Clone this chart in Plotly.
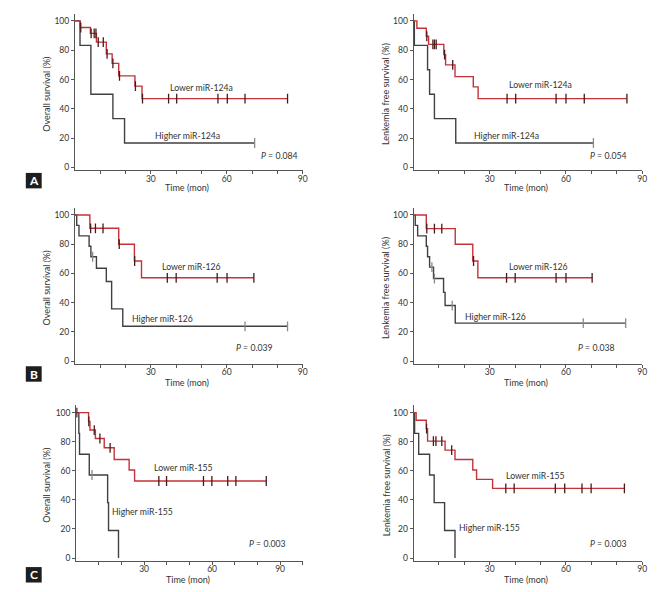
import plotly.graph_objects as go

W, H = 671, 592

# ---------------- DATA ----------------
# Panel A : miR-124a
a_os_low_t = [0, 2.0, 6.1, 8.5, 12.4, 14.7, 17.3, 23.7, 26.5, 84.0]
a_os_low_s = [100, 95.5, 91.5, 85.5, 77.5, 71.0, 62.5, 55.5, 47.0, 47.0]
a_os_low_c = [2.3, 6.4, 7.6, 8.3, 9.2, 11.2, 12.7, 15.0, 17.6, 23.9, 26.7, 37.0, 40.2, 56.5, 60.2, 67.2, 84.0]
a_os_high_t = [0, 2.0, 6.3, 15.0, 19.6, 71.0]
a_os_high_s = [100, 83.3, 50.0, 33.3, 16.7, 16.7]
a_os_high_c = [71.0]

a_lfs_low_t = [0, 1.3, 5.0, 5.9, 11.9, 12.6, 16.3, 23.5, 25.4, 84.0]
a_lfs_low_s = [100, 95.0, 89.5, 84.0, 77.0, 70.0, 62.0, 55.0, 47.0, 47.0]
a_lfs_low_c = [5.2, 7.6, 8.2, 8.9, 12.2, 15.4, 36.8, 40.2, 56.1, 60.0, 67.2, 84.0]
a_lfs_high_t = [0, 0.3, 5.5, 6.3, 8.2, 16.6, 70.8]
a_lfs_high_s = [100, 83.3, 66.7, 50.0, 33.3, 16.7, 16.7]
a_lfs_high_c = [70.8]

# Panel B : miR-126
b_os_low_t = [0, 5.9, 17.3, 23.5, 26.3, 70.7]
b_os_low_s = [100, 90.9, 80.0, 68.5, 57.0, 57.0]
b_os_low_c = [6.2, 8.1, 11.1, 17.5, 23.6, 36.5, 40.0, 56.2, 60.1, 70.7]
b_os_high_t = [0, 0.7, 1.6, 5.6, 6.3, 8.5, 12.4, 14.5, 18.9, 84.0]
b_os_high_s = [100, 92.9, 85.7, 78.6, 71.4, 63.5, 54.5, 35.7, 23.8, 23.8]
b_os_high_c = [7.0, 67.2, 84.0]

b_lfs_low_t = [0, 5.0, 16.4, 23.3, 25.3, 70.3]
b_lfs_low_s = [100, 90.7, 80.0, 68.5, 57.0, 57.0]
b_lfs_low_c = [5.2, 8.2, 11.1, 23.6, 36.6, 40.0, 56.1, 60.0, 70.3]
b_lfs_high_t = [0, 0.65, 1.6, 5.0, 5.5, 6.3, 7.85, 11.8, 12.4, 16.4, 83.5]
b_lfs_high_s = [100, 92.9, 85.7, 78.6, 71.4, 64.3, 56.5, 47.0, 38.0, 26.0, 26.0]
b_lfs_high_c = [7.2, 8.2, 15.2, 66.8, 83.5]

# Panel C : miR-155
c_os_low_t = [0, 5.5, 6.1, 8.5, 12.4, 16.8, 23.4, 25.8, 83.9]
c_os_low_s = [100, 94.0, 88.0, 82.2, 75.8, 67.8, 60.5, 53.0, 53.0]
c_os_low_c = [0.3, 5.6, 8.0, 10.5, 15.0, 36.5, 39.9, 56.2, 59.9, 66.9, 70.5, 83.9]
c_os_high_t = [0, 1.2, 1.5, 5.8, 13.9, 14.3, 18.7]
c_os_high_s = [100, 85.7, 71.4, 57.1, 38.1, 19.0, 0.0]
c_os_high_c = [7.0]

c_lfs_low_t = [0, 1.0, 5.0, 5.5, 12.4, 16.3, 23.3, 24.8, 31.1, 83.0]
c_lfs_low_s = [100, 94.7, 89.0, 80.4, 74.2, 67.8, 60.5, 54.1, 47.9, 47.9]
c_lfs_low_c = [5.1, 7.8, 8.8, 11.1, 15.0, 36.3, 39.6, 55.8, 59.5, 66.3, 69.9, 83.0]
c_lfs_high_t = [0, 0.4, 2.0, 6.3, 8.1, 12.2, 16.3]
c_lfs_high_s = [100, 85.7, 71.4, 57.1, 38.1, 19.0, 0.0]
c_lfs_high_c = []

y_ticks = [0, 20, 40, 60, 80, 100]
x_label_ticks = [30, 60, 90]

RED = "#c4323a"
RED_CENSOR = "#4a1a1a"
DARK = "#404040"
DARK_CENSOR = "#8a8a8a"
TXT = "#333333"
FONT = "Lato"


def km_at(ts, ss, tc):
    v = ss[0]
    for t, s in zip(ts, ss):
        if t <= tc:
            v = s
    return v


panels = [
    dict(id=1, xr=(0, 90), xd=(75.5, 305), yd=(13.6, 171), tgap=17,
         ytitle="Overall survival (%)",
         low=(a_os_low_t, a_os_low_s, a_os_low_c), high=(a_os_high_t, a_os_high_s, a_os_high_c),
         low_lbl=("Lower miR-124a", 50.2, 54.5), high_lbl=("Higher miR-124a", 44.3, 22.0),
         p=("0.084", 89.0, 8.0)),
    dict(id=2, xr=(0, 90), xd=(416.7, 647), yd=(13.6, 171), tgap=17,
         ytitle="Lenkemia free survival (%)",
         low=(a_lfs_low_t, a_lfs_low_s, a_lfs_low_c), high=(a_lfs_high_t, a_lfs_high_s, a_lfs_high_c),
         low_lbl=("Lower miR-124a", 49.8, 56.6), high_lbl=("Higher miR-124a", 36.5, 22.0),
         p=("0.054", 84.8, 8.4)),
    dict(id=3, xr=(0, 90), xd=(75.5, 305), yd=(208.4, 365.2), tgap=19,
         ytitle="Overall survival (%)",
         low=(b_os_low_t, b_os_low_s, b_os_low_c), high=(b_os_high_t, b_os_high_s, b_os_high_c),
         low_lbl=("Lower miR-126", 46.0, 65.0), high_lbl=("Higher miR-126", 34.6, 29.0),
         p=("0.039", 79.2, 9.5)),
    dict(id=4, xr=(0, 90), xd=(416.7, 647), yd=(208.4, 365.2), tgap=19,
         ytitle="Lenkemia free survival (%)",
         low=(b_lfs_low_t, b_lfs_low_s, b_lfs_low_c), high=(b_lfs_high_t, b_lfs_high_s, b_lfs_high_c),
         low_lbl=("Lower miR-126", 49.1, 65.0), high_lbl=("Higher miR-126", 32.1, 30.5),
         p=("0.038", 80.1, 9.5)),
    dict(id=5, xr=(0, 100), xd=(76.7, 305), yd=(406.7, 562.9), tgap=19,
         ytitle="Overall survival (%)",
         low=(c_os_low_t, c_os_low_s, c_os_low_c), high=(c_os_high_t, c_os_high_s, c_os_high_c),
         low_lbl=("Lower miR-155", 47.4, 62.3), high_lbl=("Higher miR-155", 29.4, 31.7),
         p=("0.003", 93.4, 9.8)),
    dict(id=6, xr=(0, 90), xd=(416.7, 647), yd=(406.7, 562.9), tgap=19,
         ytitle="Lenkemia free survival (%)",
         low=(c_lfs_low_t, c_lfs_low_s, c_lfs_low_c), high=(c_lfs_high_t, c_lfs_high_s, c_lfs_high_c),
         low_lbl=("Lower miR-155", 48.1, 57.0), high_lbl=("Higher miR-155", 29.7, 21.0),
         p=("0.003", 85.0, 9.8)),
]

fig = go.Figure()
annotations = []
shapes = []
layout_axes = {}

for p in panels:
    i = p["id"]
    xa = "x" if i == 1 else f"x{i}"
    ya = "y" if i == 1 else f"y{i}"
    for (ts, ss, cs), col, ccol in [(p["high"], DARK, DARK_CENSOR), (p["low"], RED, RED_CENSOR)]:
        fig.add_trace(go.Scatter(x=ts, y=ss, mode="lines", line=dict(color=col, width=1.4, shape="hv"),
                                 xaxis=xa, yaxis=ya, showlegend=False, hoverinfo="skip"))
        if cs:
            fig.add_trace(go.Scatter(x=cs, y=[km_at(ts, ss, c) for c in cs], mode="markers",
                                     marker=dict(symbol="line-ns-open", size=7, color=ccol,
                                                 line=dict(color=ccol, width=1.3)),
                                     xaxis=xa, yaxis=ya, showlegend=False, hoverinfo="skip"))
    xmax = p["xr"][1]
    tv = list(range(10, xmax + 1, 10))
    tt = [str(v) if v in x_label_ticks else "" for v in tv]
    layout_axes["xaxis" if i == 1 else f"xaxis{i}"] = dict(
        domain=[p["xd"][0] / W, p["xd"][1] / W], range=list(p["xr"]), anchor=ya,
        showline=True, linecolor="#555", linewidth=1, ticks="outside", ticklen=3, tickwidth=1,
        tickcolor="#555", tickvals=tv, ticktext=tt, showgrid=False, zeroline=False,
        tickfont=dict(size=8.5, color=TXT, family=FONT), ticklabelstandoff=-3)
    layout_axes["yaxis" if i == 1 else f"yaxis{i}"] = dict(
        domain=[1 - p["yd"][1] / H, 1 - p["yd"][0] / H], range=[-2, 105], anchor=xa,
        showline=True, linecolor="#555", linewidth=1, ticks="outside", ticklen=3, tickwidth=1,
        tickcolor="#555", tickvals=y_ticks, showgrid=False, zeroline=False,
        tickfont=dict(size=8.5, color=TXT, family=FONT))
    for (txt, x, y) in [p["low_lbl"], p["high_lbl"]]:
        annotations.append(dict(text=txt, x=x, y=y, xref=xa, yref=ya, showarrow=False,
                                xanchor="center", yanchor="middle",
                                font=dict(size=8.7, color=TXT, family=FONT)))
    pv, px_, py_ = p["p"]
    annotations.append(dict(text=f"<i>P</i> = {pv}", x=px_, y=py_, xref=xa, yref=ya, showarrow=False,
                            xanchor="right", yanchor="middle", font=dict(size=8.7, color=TXT, family=FONT)))
    ycenter = (p["yd"][0] + p["yd"][1]) / 2 + 2
    ytx = 47 if p["xd"][0] < 200 else 389
    annotations.append(dict(text=p["ytitle"], x=ytx / W, y=1 - ycenter / H, xref="paper", yref="paper",
                            xanchor="center", yanchor="middle",
                            showarrow=False, textangle=-90, font=dict(size=9, color=TXT, family=FONT)))
    xcenter = p["xd"][0] + 113
    annotations.append(dict(text="Time (mon)", x=xcenter / W, y=1 - (p["yd"][1] + p["tgap"]) / H,
                            xref="paper", yref="paper", showarrow=False,
                            xanchor="center", yanchor="middle",
                            font=dict(size=9, color=TXT, family=FONT)))

for letter, top in [("A", 173.5), ("B", 367.5), ("C", 569)]:
    shapes.append(dict(type="rect", xref="paper", yref="paper", x0=26 / W, x1=42 / W,
                       y0=1 - (top + 15.5) / H, y1=1 - top / H, fillcolor="#1e1e1e", line=dict(width=0)))
    annotations.append(dict(text=f"<b>{letter}</b>", x=34 / W, y=1 - (top + 7.8) / H, xref="paper",
                            yref="paper", showarrow=False, xanchor="center", yanchor="middle",
                            font=dict(size=12, color="white", family=FONT)))

fig.update_layout(width=W, height=H, autosize=False, margin=dict(l=0, r=0, t=0, b=0),
                  paper_bgcolor="white", plot_bgcolor="white", annotations=annotations, shapes=shapes,
                  **layout_axes)

fig.write_html("out.html", config={"displayModeBar": False},
               post_script="document.body.style.margin='0px';")
